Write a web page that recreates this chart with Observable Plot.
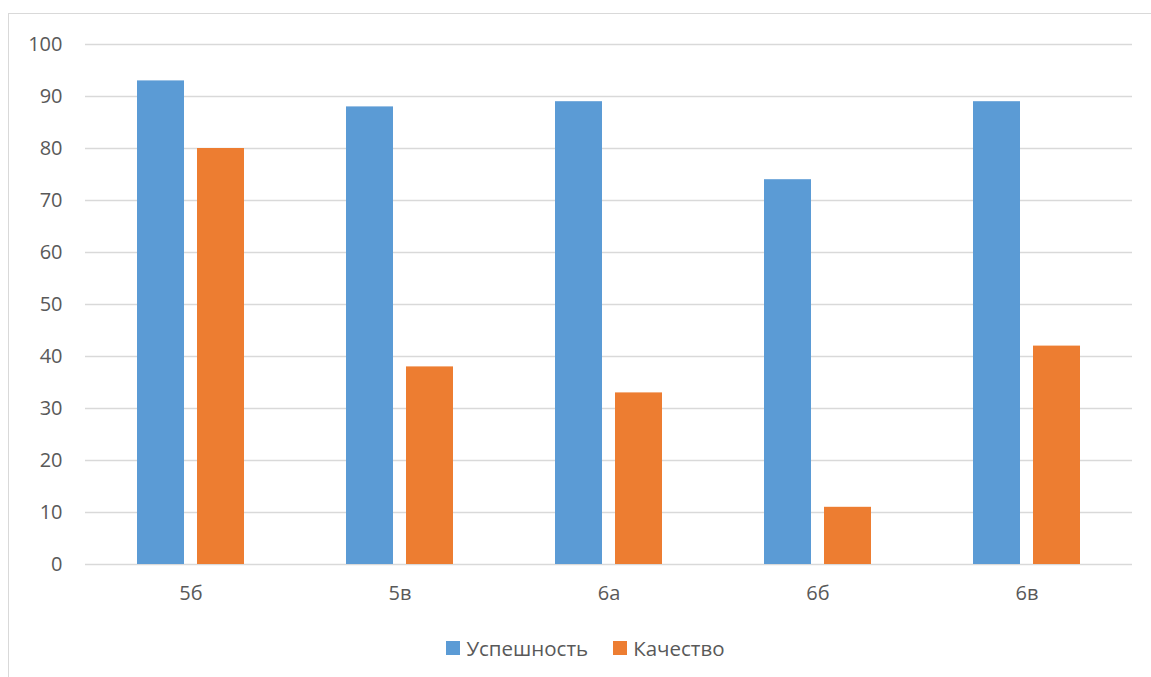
<!DOCTYPE html>
<html><head><meta charset="utf-8">
<script src="https://cdn.jsdelivr.net/npm/d3@7"></script>
<script src="https://cdn.jsdelivr.net/npm/@observablehq/plot@0.6"></script>
<style>
body{margin:0;background:#fff;font-family:"Open Sans",sans-serif;width:1151px;height:677px;overflow:hidden;position:relative;}
#frame{position:absolute;left:8px;top:13px;width:1150px;height:680px;border-left:1px solid #d9d9d9;border-top:1px solid #d9d9d9;}
#grid,#chart{position:absolute;left:0;top:0;}
#legend{position:absolute;top:635px;left:0;width:1151px;display:flex;justify-content:center;gap:25px;font-size:20.5px;color:#595959;line-height:26px;padding-left:20px;box-sizing:border-box;}
#legend .item{display:flex;align-items:center;}
#legend .sw{width:14px;height:14px;margin-right:6px;display:inline-block;}
</style>
</head><body>
<div id="frame"></div>
<div id="grid"></div>
<div id="chart"></div>
<div id="legend"></div>
<script>
const classes = ["5б","5в","6а","6б","6в"];
const success = [93, 88, 89, 74, 89];
const quality = [80, 38, 33, 11, 42];
const seriesNames = ["Успешность","Качество"];
const seriesColors = ["#5B9BD5","#ED7D31"];
const yTicks = [0,10,20,30,40,50,60,70,80,90,100];

const data = classes.flatMap((c,i)=>[
  {cls:c, series:seriesNames[0], value:success[i]},
  {cls:c, series:seriesNames[1], value:quality[i]}
]);

const common = {
  width:1151, height:600,
  marginLeft:85, marginRight:19, marginTop:44, marginBottom:36
};
const font = {fontFamily:"Open Sans", fontSize:"20px", color:"#595959", background:"transparent", overflow:"visible"};

// background layer: y axis + full-width gridlines
const gridPlot = Plot.plot({
  ...common,
  style:font,
  y:{domain:[0,100], ticks:yTicks, label:null, tickSize:0, tickPadding:23},
  marks:[
    Plot.ruleY(yTicks, {stroke:"#d9d9d9", strokeWidth:1.3})
  ]
});
document.getElementById("grid").appendChild(gridPlot);

// bars layer: grouped by class (fx facets)
const chart = Plot.plot({
  ...common,
  style:font,
  fx:{domain:classes, paddingInner:0.49, paddingOuter:0.245, label:null, axis:"bottom", tickSize:0, tickPadding:21},
  x:{domain:seriesNames, paddingInner:0.22, paddingOuter:0, axis:null},
  y:{domain:[0,100], axis:null},
  color:{domain:seriesNames, range:seriesColors},
  marks:[
    Plot.barY(data, {fx:"cls", x:"series", y:"value", fill:"series"})
  ]
});
document.getElementById("chart").appendChild(chart);

const lg = document.getElementById("legend");
seriesNames.forEach((s,i)=>{
  const it = document.createElement("div"); it.className="item";
  const sw = document.createElement("span"); sw.className="sw"; sw.style.background=seriesColors[i];
  const t = document.createElement("span"); t.textContent=s;
  it.appendChild(sw); it.appendChild(t); lg.appendChild(it);
});
</script>
</body></html>
